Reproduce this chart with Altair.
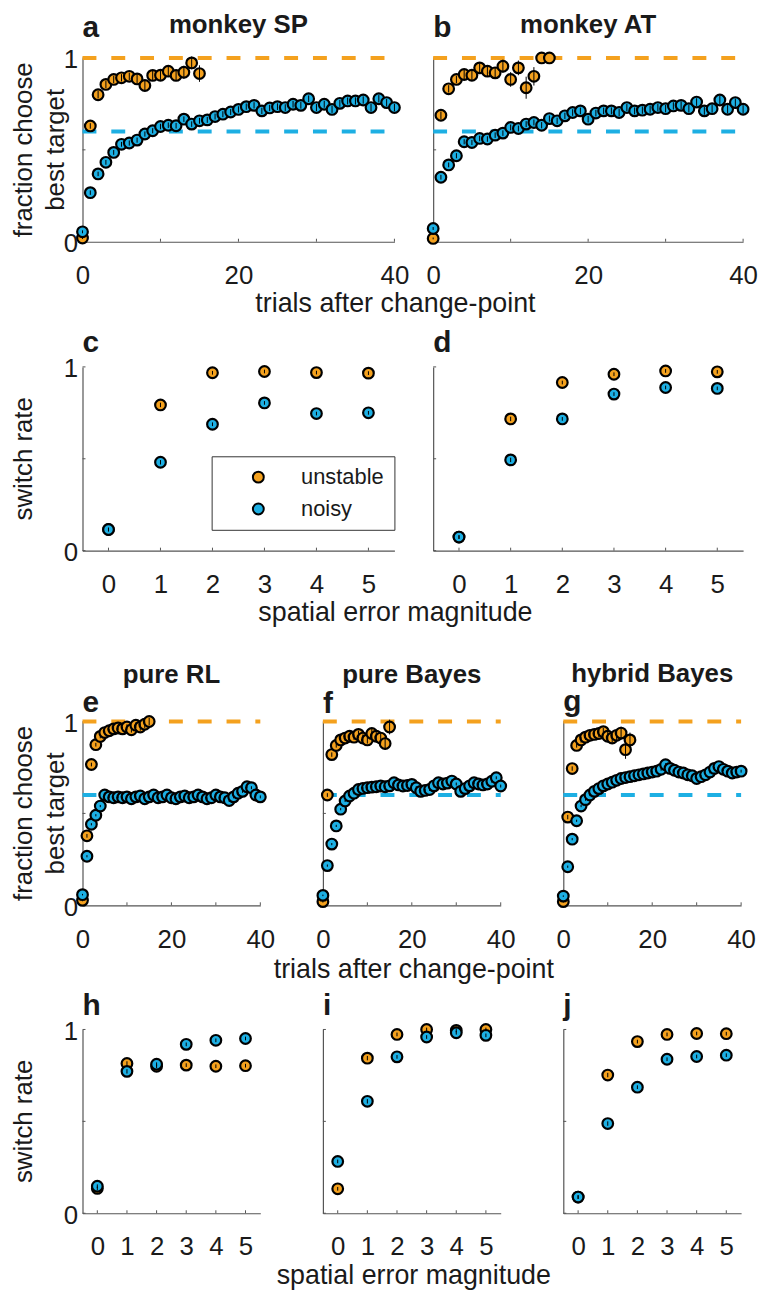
import altair as alt
import pandas as pd

# ---------------- data ----------------
CONDITIONS = ["unstable", "noisy"]
OPTIMAL = [1.0, 0.6]                 # dashed reference levels (unstable, noisy)
TRIALS = list(range(41))             # trials after change-point
TRIAL_RANGE = [0, 40]
TRIAL_X_LABELS = [0, 20, 40]
TRIAL_X_TICKS = [0, 10, 20, 30, 40]
SPATIAL_ERRORS = [0, 1, 2, 3, 4, 5]
SPATIAL_RANGE = [-0.5, 5.5]
Y_LABELS = [0, 1]
Y_TICKS = [0, 0.5, 1]

PANEL_LETTERS = ["a", "b", "c", "d", "e", "f", "g", "h", "i", "j"]
MONKEY_TITLES = ["monkey SP", "monkey AT"]
MODEL_TITLES = ["pure RL", "pure Bayes", "hybrid Bayes"]
Y_TITLE_FRACTION = "fraction choose\nbest target"
Y_TITLE_SWITCH = "switch rate"
X_TITLE_TRIALS = "trials after change-point"
X_TITLE_SPATIAL = "spatial error magnitude"

# panel a (monkey SP)
a_unstable = [0.02, 0.63, 0.80, 0.856, 0.883, 0.892, 0.90, 0.886, 0.85, 0.905, 0.906, 0.928, 0.905, 0.922, 0.973, 0.915]
a_unstable_err = [0.005, 0.015, 0.02, 0.02, 0.02, 0.02, 0.02, 0.025, 0.03, 0.025, 0.025, 0.03, 0.03, 0.035, 0.035, 0.045]
a_noisy = [0.054, 0.267, 0.369, 0.432, 0.486, 0.53, 0.537, 0.553, 0.586, 0.604, 0.627, 0.634, 0.631, 0.667,
           0.64, 0.658, 0.663, 0.681, 0.694, 0.706, 0.72, 0.735, 0.742, 0.712, 0.728, 0.735, 0.73, 0.748,
           0.742, 0.778, 0.73, 0.748, 0.72, 0.753, 0.766, 0.766, 0.771, 0.73, 0.778, 0.757, 0.73]
a_noisy_err = [0.008, 0.012, 0.012, 0.013, 0.013, 0.013, 0.014, 0.014, 0.014, 0.014, 0.015, 0.015, 0.015, 0.015,
               0.015, 0.016, 0.016, 0.016, 0.016, 0.016, 0.017, 0.017, 0.017, 0.017, 0.017, 0.018, 0.018, 0.018,
               0.018, 0.018, 0.019, 0.019, 0.019, 0.019, 0.019, 0.02, 0.02, 0.02, 0.02, 0.02, 0.02]

# panel b (monkey AT)
b_unstable = [0.018, 0.688, 0.832, 0.883, 0.91, 0.906, 0.946, 0.928, 0.919, 0.955, 0.883, 0.946, 0.838, 0.90, 1.0, 1.0]
b_unstable_err = [0.005, 0.02, 0.02, 0.02, 0.025, 0.025, 0.025, 0.03, 0.03, 0.035, 0.04, 0.04, 0.06, 0.05, 0.0, 0.0]
b_noisy = [0.072, 0.351, 0.418, 0.468, 0.544, 0.54, 0.562, 0.559, 0.58, 0.591, 0.622, 0.616, 0.64, 0.649,
           0.634, 0.67, 0.658, 0.685, 0.703, 0.712, 0.667, 0.70, 0.712, 0.712, 0.703, 0.73, 0.712, 0.716,
           0.721, 0.73, 0.724, 0.739, 0.742, 0.724, 0.76, 0.712, 0.724, 0.771, 0.721, 0.757, 0.721]
b_noisy_err = [0.008, 0.013, 0.013, 0.014, 0.014, 0.014, 0.015, 0.015, 0.015, 0.015, 0.016, 0.016, 0.016, 0.016,
               0.017, 0.017, 0.017, 0.017, 0.018, 0.018, 0.018, 0.018, 0.018, 0.019, 0.019, 0.019, 0.019, 0.02,
               0.02, 0.02, 0.02, 0.02, 0.021, 0.021, 0.021, 0.021, 0.022, 0.022, 0.022, 0.022, 0.022]

# panel e (pure RL)
e_unstable = [0.027, 0.378, 0.766, 0.874, 0.919, 0.94, 0.95, 0.96, 0.965, 0.96, 0.97, 0.955, 0.98, 0.97, 0.985, 1.0]
e_unstable_err = [0.005, 0.01, 0.01, 0.01, 0.01, 0.01, 0.01, 0.012, 0.012, 0.012, 0.015, 0.015, 0.015, 0.02, 0.02, 0.02]
e_noisy = [0.058, 0.267, 0.441, 0.49, 0.54, 0.60, 0.59, 0.585, 0.59, 0.585, 0.59, 0.58, 0.59, 0.595,
           0.58, 0.59, 0.60, 0.585, 0.59, 0.60, 0.585, 0.58, 0.59, 0.595, 0.585, 0.59, 0.60, 0.59,
           0.58, 0.585, 0.60, 0.59, 0.585, 0.57, 0.59, 0.61, 0.62, 0.645, 0.64, 0.60, 0.59]

# panel f (pure Bayes)
f_unstable = [0.02, 0.60, 0.82, 0.87, 0.90, 0.91, 0.92, 0.915, 0.93, 0.91, 0.90, 0.935, 0.92, 0.91, 0.88, 0.97]
f_unstable_err = [0.005, 0.01, 0.012, 0.012, 0.012, 0.015, 0.015, 0.015, 0.02, 0.02, 0.02, 0.025, 0.025, 0.03, 0.035, 0.04]
f_noisy = [0.054, 0.216, 0.333, 0.432, 0.523, 0.568, 0.595, 0.61, 0.63, 0.636, 0.64, 0.643, 0.645, 0.649,
           0.645, 0.65, 0.667, 0.655, 0.649, 0.652, 0.658, 0.64, 0.62, 0.625, 0.63, 0.65, 0.667, 0.66,
           0.665, 0.676, 0.66, 0.62, 0.635, 0.65, 0.667, 0.66, 0.655, 0.66, 0.675, 0.694, 0.649]

# panel g (hybrid Bayes)
g_unstable = [0.02, 0.48, 0.744, 0.87, 0.90, 0.915, 0.925, 0.93, 0.935, 0.945, 0.92, 0.91, 0.925, 0.937, 0.847, 0.90]
g_unstable_err = [0.005, 0.012, 0.012, 0.012, 0.015, 0.015, 0.015, 0.02, 0.02, 0.02, 0.025, 0.025, 0.03, 0.035, 0.05, 0.04]
g_noisy = [0.05, 0.21, 0.36, 0.46, 0.54, 0.575, 0.60, 0.62, 0.635, 0.65, 0.66, 0.67, 0.68, 0.69,
           0.695, 0.70, 0.705, 0.71, 0.715, 0.72, 0.725, 0.73, 0.74, 0.765, 0.745, 0.735, 0.725, 0.72,
           0.71, 0.705, 0.69, 0.70, 0.71, 0.725, 0.745, 0.755, 0.74, 0.73, 0.72, 0.725, 0.73]

model_noisy_err = [0.004, 0.006, 0.006, 0.006, 0.006, 0.006, 0.006, 0.006, 0.007, 0.007, 0.007, 0.007, 0.007, 0.007,
                   0.007, 0.007, 0.007, 0.007, 0.008, 0.008, 0.008, 0.008, 0.008, 0.008, 0.008, 0.008, 0.008, 0.008,
                   0.008, 0.008, 0.008, 0.008, 0.008, 0.008, 0.008, 0.008, 0.008, 0.008, 0.008, 0.008, 0.008]

# switch-rate panels (c, d: monkeys; h, i, j: models)
c_unstable = [0.115, 0.793, 0.968, 0.975, 0.969, 0.966]
c_noisy = [0.115, 0.481, 0.688, 0.804, 0.746, 0.750]
d_unstable = [0.074, 0.717, 0.915, 0.960, 0.978, 0.973]
d_noisy = [0.074, 0.494, 0.717, 0.852, 0.888, 0.883]
h_unstable = [0.135, 0.815, 0.80, 0.806, 0.80, 0.803]
h_noisy = [0.147, 0.772, 0.811, 0.919, 0.941, 0.951]
i_unstable = [0.133, 0.844, 0.973, 1.0, 0.995, 1.0]
i_noisy = [0.282, 0.609, 0.851, 0.959, 0.982, 0.968]
j_unstable = [0.088, 0.752, 0.934, 0.973, 0.978, 0.977]
j_noisy = [0.088, 0.488, 0.686, 0.838, 0.853, 0.86]
switch_err = [0.01, 0.012, 0.01, 0.01, 0.01, 0.01]

# ---------------- style ----------------
FONT = "Liberation Sans"
ORANGE = "#F4A11E"
BLUE = "#1DAFE3"
COLORS = [ORANGE, BLUE]
AXIS_COLOR = "#555555"
TEXT_COLOR = "#1a1a1a"
MARK_SIZE = 115
MARK_STROKE = 2.2

ONE = pd.DataFrame({"k": [0]})
YS = alt.Scale(domain=[0, 1], nice=False, zero=False)


def text_layer(text, x, y, size, weight="normal", align="center", baseline="alphabetic",
               angle=None, line_height=None):
    kw = dict(font=FONT, fontSize=size, fontWeight=weight, align=align,
              baseline=baseline, color=TEXT_COLOR)
    if angle is not None:
        kw["angle"] = angle
    if line_height is not None:
        kw["lineBreak"] = "\n"
        kw["lineHeight"] = line_height
    return alt.Chart(ONE).mark_text(**kw).encode(
        x=alt.value(x), y=alt.value(y), text=alt.value(text))


def frame_layer(w, h, above, below, left=75):
    return alt.Chart(ONE).mark_rect(opacity=0).encode(
        x=alt.value(-left), x2=alt.value(w), y=alt.value(-above), y2=alt.value(h + below))


def axis_setup(kind, h, ylabels):
    if kind == "trial":
        xs = alt.Scale(domain=TRIAL_RANGE, nice=False, zero=False)
        xlab, xt = TRIAL_X_LABELS, TRIAL_X_TICKS
    else:
        xs = alt.Scale(domain=SPATIAL_RANGE, nice=False, zero=False)
        xlab, xt = SPATIAL_ERRORS, SPATIAL_ERRORS
    xaxis = alt.Axis(values=xlab, title=None, labelPadding=21, format="d",
                     labelFlush=False, labelOverlap=False)
    yaxis = alt.Axis(values=Y_LABELS, title=None, labels=ylabels, labelPadding=5,
                     labelOffset=2, format="d", labelFlush=False, labelOverlap=False)
    X = lambda f: alt.X(f, scale=xs, axis=xaxis)
    Y = lambda f: alt.Y(f, scale=YS, axis=yaxis)
    # inward ticks, as in the original figure
    xt_layer = alt.Chart(pd.DataFrame({"v": xt})).mark_rule(color=AXIS_COLOR, strokeWidth=1).encode(
        x=X("v:Q"), y=alt.value(h), y2=alt.value(h - 3))
    yt_layer = alt.Chart(pd.DataFrame({"v": Y_TICKS})).mark_rule(color=AXIS_COLOR, strokeWidth=1).encode(
        y=Y("v:Q"), x=alt.value(0), x2=alt.value(3))
    return X, Y, [xt_layer, yt_layer]


def trial_panel(unst, unst_err, noisy, noisy_err, w, h, ylabels, extra):
    X, Y, layers = axis_setup("trial", h, ylabels)
    ref = pd.DataFrame({"x0": [TRIAL_RANGE[0]] * 2, "x1": [TRIAL_RANGE[1]] * 2,
                        "y": OPTIMAL, "cond": CONDITIONS})
    for cond, col in zip(CONDITIONS, COLORS):
        layers.append(alt.Chart(ref[ref.cond == cond]).mark_rule(
            color=col, strokeWidth=4, strokeDash=[14, 15]).encode(
            x=X("x0:Q"), x2="x1:Q", y=Y("y:Q")))
    for vals, errs, col in [(unst, unst_err, ORANGE), (noisy, noisy_err, BLUE)]:
        df = pd.DataFrame({"t": TRIALS[:len(vals)], "v": vals, "e": errs})
        df["lo"] = df.v - df.e
        df["hi"] = df.v + df.e
        layers.append(alt.Chart(df).mark_circle(
            size=MARK_SIZE, color=col, stroke="black", strokeWidth=MARK_STROKE, opacity=1).encode(
            x=X("t:Q"), y=Y("v:Q")))
        layers.append(alt.Chart(df).mark_rule(color="black", strokeWidth=1).encode(
            x=X("t:Q"), y=Y("lo:Q"), y2="hi:Q"))
    return alt.layer(*layers, *extra).properties(width=w, height=h)


def switch_panel(unst, noisy, w, h, ylabels, extra, legend=None):
    X, Y, layers = axis_setup("switch", h, ylabels)
    df = pd.DataFrame({
        "x": SPATIAL_ERRORS * 2,
        "v": unst + noisy,
        "e": switch_err * 2,
        "cond": [CONDITIONS[0]] * len(unst) + [CONDITIONS[1]] * len(noisy),
    })
    df["lo"] = df.v - df.e
    df["hi"] = df.v + df.e
    layers.append(alt.Chart(df).mark_circle(
        size=MARK_SIZE, stroke="black", strokeWidth=MARK_STROKE, opacity=1).encode(
        x=X("x:Q"), y=Y("v:Q"),
        color=alt.Color("cond:N", scale=alt.Scale(domain=CONDITIONS, range=COLORS),
                        legend=legend)))
    layers.append(alt.Chart(df).mark_rule(color="black", strokeWidth=1).encode(
        x=X("x:Q"), y=Y("lo:Q"), y2="hi:Q"))
    return alt.layer(*layers, *extra).properties(width=w, height=h)


H = 185
W_TOP = 314
W_BOT = 179
GAP_TOP = 39
GAP_BOT = 63
TITLE_SIZE = 26
LETTER_SIZE = 30
AXIS_TITLE_SIZE = 27
YTITLE_SIZE = 26
YTITLE_X = -59

# ---- row 1: a, b ----
pa = trial_panel(a_unstable, a_unstable_err, a_noisy, a_noisy_err, W_TOP, H, True, [
    frame_layer(W_TOP, H, 46, 77),
    text_layer(MONKEY_TITLES[0], W_TOP / 2, -25, TITLE_SIZE, "bold"),
    text_layer(PANEL_LETTERS[0], 0, -21, LETTER_SIZE, "bold", align="left"),
    text_layer(Y_TITLE_FRACTION, YTITLE_X, H / 2, YTITLE_SIZE, angle=270, baseline="middle", line_height=32),
    text_layer(X_TITLE_TRIALS, 315, H + 71, AXIS_TITLE_SIZE),
])
pb = trial_panel(b_unstable, b_unstable_err, b_noisy, b_noisy_err, W_TOP - 2, H, False, [
    text_layer(MONKEY_TITLES[1], (W_TOP - 2) / 2, -25, TITLE_SIZE, "bold"),
    text_layer(PANEL_LETTERS[1], 0, -21, LETTER_SIZE, "bold", align="left"),
])

legend = alt.Legend(orient="none", legendX=130, legendY=90, title=None, direction="vertical",
                    strokeColor="#333333", fillColor="white", padding=10,
                    symbolType="circle", symbolSize=120, symbolStrokeColor="black",
                    symbolStrokeWidth=2, symbolOffset=26, symbolOpacity=1,
                    labelOffset=32, labelFontSize=22, labelFont=FONT, labelColor=TEXT_COLOR,
                    rowPadding=10)

# ---- row 2: c, d ----
pc = switch_panel(c_unstable, c_noisy, W_TOP, H, True, [
    frame_layer(W_TOP, H, 49, 92),
    text_layer(PANEL_LETTERS[2], 0, -15, LETTER_SIZE, "bold", align="left"),
    text_layer(Y_TITLE_SWITCH, YTITLE_X, H / 2, YTITLE_SIZE, angle=270, baseline="middle"),
    text_layer(X_TITLE_SPATIAL, 315, H + 71, AXIS_TITLE_SIZE),
], legend=legend)
pd_ = switch_panel(d_unstable, d_noisy, W_TOP - 2, H, False, [
    text_layer(PANEL_LETTERS[3], 0, -15, LETTER_SIZE, "bold", align="left"),
])

# ---- row 3: e, f, g ----
pe = trial_panel(e_unstable, e_unstable_err, e_noisy, model_noisy_err, W_BOT, H, True, [
    frame_layer(W_BOT, H, 80, 80),
    text_layer(MODEL_TITLES[0], W_BOT / 2, -39, TITLE_SIZE, "bold"),
    text_layer(PANEL_LETTERS[4], 0, -10, LETTER_SIZE, "bold", align="left"),
    text_layer(Y_TITLE_FRACTION, YTITLE_X, H / 2, YTITLE_SIZE, angle=270, baseline="middle", line_height=32),
])
pf = trial_panel(f_unstable, f_unstable_err, f_noisy, model_noisy_err, W_BOT, H, False, [
    text_layer(MODEL_TITLES[1], W_BOT / 2, -39, TITLE_SIZE, "bold"),
    text_layer(PANEL_LETTERS[5], 0, -9, LETTER_SIZE, "bold", align="left"),
    text_layer(X_TITLE_TRIALS, W_BOT / 2 + 2, H + 73, AXIS_TITLE_SIZE),
])
pg = trial_panel(g_unstable, g_unstable_err, g_noisy, model_noisy_err, W_BOT, H, False, [
    text_layer(MODEL_TITLES[2], W_BOT / 2, -40, TITLE_SIZE, "bold"),
    text_layer(PANEL_LETTERS[6], 0, -11, LETTER_SIZE, "bold", align="left"),
])

# ---- row 4: h, i, j ----
ph = switch_panel(h_unstable, h_noisy, W_BOT, H, True, [
    frame_layer(W_BOT, H, 45, 76),
    text_layer(PANEL_LETTERS[7], 0, -15, LETTER_SIZE, "bold", align="left"),
    text_layer(Y_TITLE_SWITCH, YTITLE_X, H / 2, YTITLE_SIZE, angle=270, baseline="middle"),
])
pi = switch_panel(i_unstable, i_noisy, W_BOT, H, False, [
    text_layer(PANEL_LETTERS[8], 0, -15, LETTER_SIZE, "bold", align="left"),
    text_layer(X_TITLE_SPATIAL, W_BOT / 2 + 2, H + 71, AXIS_TITLE_SIZE),
])
pj = switch_panel(j_unstable, j_noisy, W_BOT, H, False, [
    text_layer(PANEL_LETTERS[9], 0, -15, LETTER_SIZE, "bold", align="left"),
])


def row(*charts, spacing):
    return alt.hconcat(*charts, spacing=spacing, bounds="flush").resolve_scale(
        color="independent").resolve_legend(color="independent")


chart = alt.vconcat(
    row(pa, pb, spacing=GAP_TOP),
    row(pc, pd_, spacing=GAP_TOP),
    row(pe, pf, pg, spacing=GAP_BOT),
    row(ph, pi, pj, spacing=GAP_BOT),
    spacing=0, bounds="full",
).resolve_scale(color="independent").resolve_legend(color="independent").properties(
    padding=0
).configure_view(stroke=None).configure_axis(
    domainColor=AXIS_COLOR, domainWidth=1.2, labelFont=FONT, labelFontSize=26,
    labelColor=TEXT_COLOR, ticks=False, tickSize=0, grid=False,
)

chart.save("out.html", embed_options={"renderer": "svg", "actions": False})
